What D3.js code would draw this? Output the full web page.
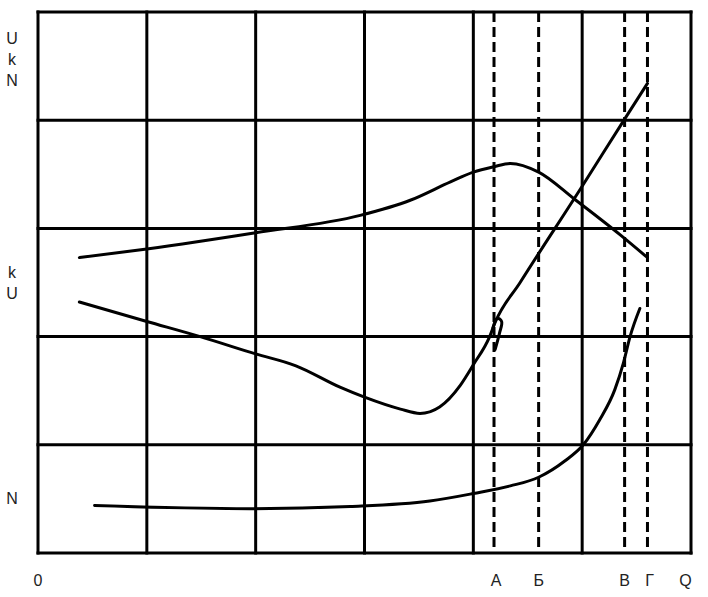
<!DOCTYPE html>
<html>
<head>
<meta charset="utf-8">
<script src="https://cdn.jsdelivr.net/npm/d3@7/dist/d3.min.js"></script>
<style>
  html, body { margin: 0; padding: 0; background: #fff; }
  svg { display: block; }
  text { font-family: "Liberation Sans", Arial, sans-serif; font-size: 16px; fill: #222; }
</style>
</head>
<body>
<div id="chart"></div>
<script>
// ─── data (grid units: x 0..6 columns, y 0..5 rows) ─────────────
const colLines = [0, 1, 2, 3, 4, 5, 6];
const rowLines = [0, 1, 2, 3, 4, 5];
const dashedX = [4.19, 4.6, 5.39, 5.6];
const bottomLabels = ['А', 'Б', 'В', 'Г'];

// upper hump curve
const humpCurve = [[0.38, 2.73], [1, 2.81], [2, 2.96], [2.96, 3.12], [3.42, 3.26], [3.79, 3.43],
  [4, 3.52], [4.19, 3.57], [4.34, 3.6], [4.6, 3.52], [4.93, 3.27], [5.35, 2.94], [5.6, 2.73]];

// falling curve with trough, then straight rise to the top
const troughCurve = [[0.38, 2.32], [1, 2.14], [1.49, 2.0], [2, 1.84], [2.37, 1.73], [2.78, 1.53],
  [3, 1.44], [3.33, 1.33], [3.51, 1.29], [3.69, 1.35], [3.88, 1.55], [4, 1.74], [4.15, 2.0],
  [4.2, 2.13], [4.43, 2.5], [5, 3.39], [5.39, 4.01], [5.6, 4.34]];

// small hand-drawn hook near А
const hook = [[4.18, 2.08], [4.22, 2.17], [4.26, 2.14], [4.24, 2.03], [4.2, 1.88]];

// bottom N curve
const nCurve = [[0.52, 0.44], [1.95, 0.41], [2.87, 0.43], [3.6, 0.48], [4, 0.55], [4.34, 0.62],
  [4.6, 0.7], [4.84, 0.85], [5.01, 1.0], [5.16, 1.23], [5.3, 1.51], [5.38, 1.76], [5.44, 2.0], [5.53, 2.26]];

// left-side labels (stacked letters), y in grid units
const leftLabels = [
  { t: ['U', 'k', 'N'], y: 4.56 },
  { t: ['k', 'U'], y: 2.5 },
  { t: ['N'], y: 0.5 }
];

// ─── drawing ────────────────────────────────────────────────────
const W = 708, H = 597;
const x = d3.scaleLinear().domain([0, 6]).range([38, 691]);
const y = d3.scaleLinear().domain([0, 5]).range([553, 12]);

const svg = d3.select('#chart').append('svg').attr('width', W).attr('height', H);

// grid
svg.append('g').selectAll('line').data(colLines).enter().append('line')
  .attr('x1', d => x(d)).attr('x2', d => x(d))
  .attr('y1', y(0) + 1.5).attr('y2', y(5) - 1.5)
  .attr('stroke', '#000').attr('stroke-width', 3);
svg.append('g').selectAll('line').data(rowLines).enter().append('line')
  .attr('x1', x(0) - 1.5).attr('x2', x(6) + 1.5)
  .attr('y1', d => y(d)).attr('y2', d => y(d))
  .attr('stroke', '#000').attr('stroke-width', 3);

// dashed markers
svg.append('g').selectAll('line').data(dashedX).enter().append('line')
  .attr('x1', d => x(d)).attr('x2', d => x(d))
  .attr('y1', y(5)).attr('y2', y(0))
  .attr('stroke', '#000').attr('stroke-width', 3)
  .attr('stroke-dasharray', '10,5');

const smooth = d3.line().x(d => x(d[0])).y(d => y(d[1])).curve(d3.curveMonotoneX);
const free = d3.line().x(d => x(d[0])).y(d => y(d[1])).curve(d3.curveCatmullRom.alpha(0.5));

[[humpCurve, smooth], [troughCurve, smooth], [hook, free], [nCurve, smooth]].forEach(([pts, gen]) => {
  svg.append('path').attr('d', gen(pts))
    .attr('fill', 'none').attr('stroke', '#000').attr('stroke-width', 3)
    .attr('stroke-linejoin', 'round').attr('stroke-linecap', 'round');
});

// left labels
leftLabels.forEach(g => {
  const n = g.t.length;
  g.t.forEach((s, i) => {
    svg.append('text')
      .attr('x', 12).attr('y', y(g.y) + (i - (n - 1) / 2) * 21)
      .attr('text-anchor', 'middle').attr('dominant-baseline', 'central')
      .text(s);
  });
});

// bottom labels
const bottom = [{ t: '0', v: 0 }].concat(bottomLabels.map((t, i) => ({ t, v: dashedX[i] })), [{ t: 'Q', v: 5.95 }]);
svg.append('g').selectAll('text').data(bottom).enter().append('text')
  .attr('x', d => x(d.v) + (d.t === 'А' || d.t === 'Г' ? 2 : 0))
  .attr('y', 580).attr('text-anchor', 'middle').attr('dominant-baseline', 'central')
  .text(d => d.t);
</script>
</body>
</html>
